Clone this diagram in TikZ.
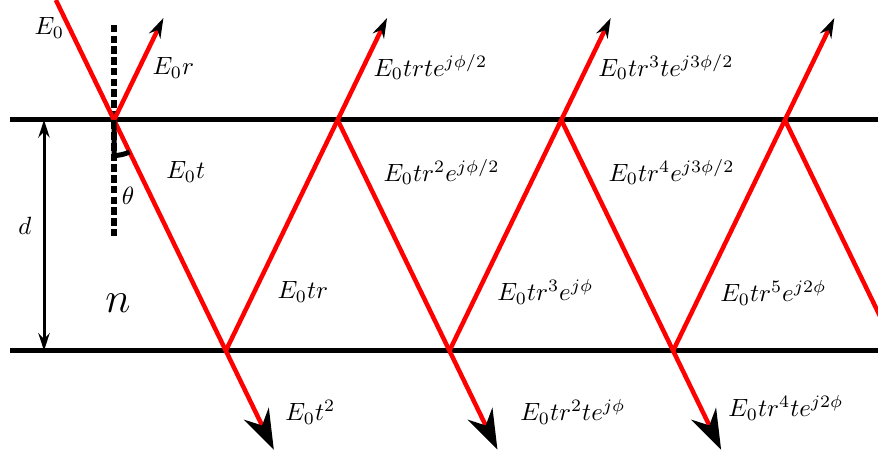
\documentclass[tikz,border=0pt]{standalone}
\usepackage{amsmath}
\usetikzlibrary{arrows.meta}

\begin{document}
\begin{tikzpicture}[every node/.style={font=\normalsize},
    ray/.style={red,line width=1.8pt},
    face/.style={black,line width=2pt}]
  \useasboundingbox (-1.606,-4.704) rectangle (10.761,1.690);
  \clip (-1.606,-4.704) rectangle (10.761,1.690);
  % hit points on the two faces, tips of the outgoing rays
  \foreach \i/\x in {0/0,1/3.15,2/6.30,3/9.45}{
    \coordinate (T\i) at (\x,0);
    \coordinate (B\i) at (\x+1.575,-3.25);
    \coordinate (R\i) at (\x+0.696,1.437);
    \coordinate (S\i) at (\x+2.251,-4.644);
  }
  \coordinate (in) at (-0.819,1.690);
  \coordinate (topL) at (-1.465,0);   \coordinate (topR) at (10.8,0);
  \coordinate (botL) at (-1.465,-3.25); \coordinate (botR) at (10.8,-3.25);
  \coordinate (nt) at (0,1.338);     \coordinate (nb) at (0,-1.662);
  \coordinate (dt) at (-0.986,0);    \coordinate (db) at (-0.986,-3.25);
  % slab
  \draw[face] (topL)--(topR);
  \draw[face] (botL)--(botR);
  \draw[{Stealth[length=7pt,width=4.5pt]}-{Stealth[length=7pt,width=4.5pt]},line width=1.2pt]
    (dt)--(db);
  \draw[line width=2.2pt,dash pattern=on 3pt off 1.3pt] (nt)--(nb);
  % rays
  \draw[ray] (in)--(T0);
  \foreach \a/\b in {T0/B0,B0/T1,T1/B1,B1/T2,T2/B2,B2/T3,T3/B3}
    \draw[ray] (\a)--(\b);
  \foreach \i in {0,1,2,3}
    \draw[ray,-{Stealth[black,length=8pt,width=5pt]}] (T\i)--(R\i);
  \foreach \i in {0,1,2}
    \draw[ray,-{Stealth[black,length=16pt,width=11pt]}] (B\i)--(S\i);
  \draw[line width=2pt] (T0)--++(0,-0.5) arc[start angle=-90,end angle=-64.15,radius=0.5];
  % labels
  \node (th) at (0.197,-1.070) {$\theta$};
  \node (dl) at (-1.254,-1.493) {$d$};
  \node[font=\LARGE] (nl) at (0.056,-2.577) {$n$};
  \foreach \n/\x/\y/\t in {
      e0/-1.127/1.296/{$E_0$},
      e0r/0.535/0.732/{$E_0r$},
      e0t/0.732/-0.732/{$E_0t$},
      e0tr/2.296/-2.423/{$E_0tr$},
      e0tt/2.408/-4.113/{$E_0t^2$},
      r1/3.648/0.746/{$E_0trte^{j\phi/2}$},
      i2/3.789/-0.732/{$E_0tr^2e^{j\phi/2}$},
      i3/5.394/-2.423/{$E_0tr^3e^{j\phi}$},
      t2/5.718/-4.113/{$E_0tr^2te^{j\phi}$},
      r2/6.817/0.746/{$E_0tr^3te^{j3\phi/2}$},
      i4/6.958/-0.732/{$E_0tr^4e^{j3\phi/2}$},
      i5/8.535/-2.437/{$E_0tr^5e^{j2\phi}$},
      t3/8.648/-4.056/{$E_0tr^4te^{j2\phi}$}}{
    \node[anchor=west,inner sep=0pt] (\n) at (\x,\y) {\t};
  }
\end{tikzpicture}
\end{document}
